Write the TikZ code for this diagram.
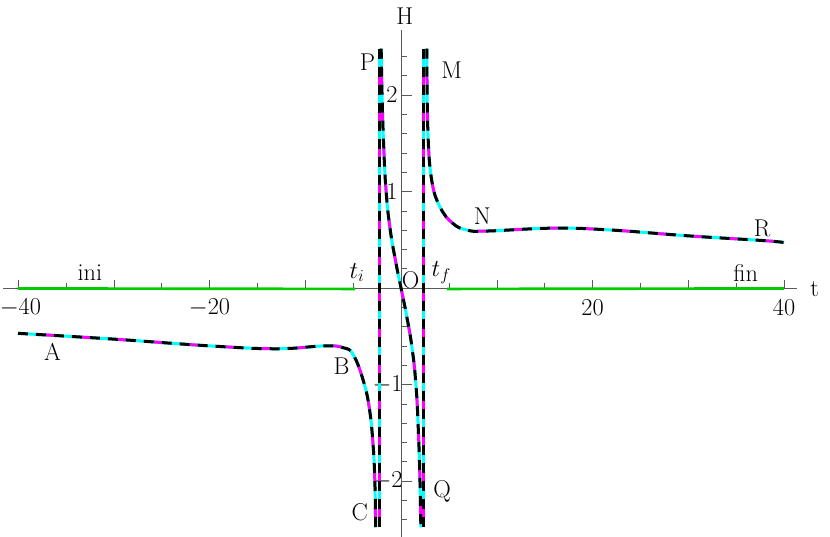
\documentclass[tikz,border=0pt]{standalone}
\usepackage{amsmath}
\usetikzlibrary{calc}
\definecolor{cy}{RGB}{0,255,255}
\definecolor{mg}{RGB}{255,0,255}

\begin{document}
\begin{tikzpicture}[x=0.28725cm,y=2.895cm]
            \tikzset{every node/.style={inner sep=1pt,font=\huge}}
            \tikzstyle{base}=[cy,line width=0.09cm]
            \tikzstyle{mag}=[mg,line width=0.09cm,dash pattern={on 0cm off 0.84cm on 0.24cm off 0cm}]
            \tikzstyle{blk}=[black,line width=0.09cm,dash pattern={on 0.3cm off 0.24cm}]
            \tikzstyle{flat}=[green!80!black,line width=0.08cm]
            \useasboundingbox (-41.88,-2.58) rectangle (44.80,2.984);
            % axes
            \draw[gray!70!black] (-41.55,0) -- (41.35,0);
            \draw[gray!70!black] (0,-2.58) -- (0,2.67);
            \foreach \t in {-40,-30,...,40} \draw[gray!70!black] (\t,0) -- ++(0,0.08);
            \foreach \t in {-35,-25,...,35} \draw[gray!70!black] (\t,0) -- ++(0,0.05);
            \foreach \h in {-2.4,-2.2,...,2.5} \draw[gray!70!black] (0,\h) -- ++(0.6,0);
            \foreach \h in {-2,-1,1,2} \draw[gray!70!black] (0,\h) -- ++(1.1,0);
            \foreach \t in {-20,20,40} \node (x\t) at (\t,-0.2) {$\t$};
            \node (x-40) at (-39.75,-0.2) {$-40$};
            \foreach \h in {1,2} \node (y\h) at (-0.95,\h) {$\h$};
            \foreach \h in {-1,-2} \node (y\h) at (-1.4,\h) {$\h$};
            \node (hl) at (0.4,2.82) {H};
            \node (tl) at (43.2,-0.01) {t};
            % green pieces
            \draw[flat] (-40,-0.005) -- (-4.8,-0.01);
            \draw[flat] (4.8,-0.01) -- (40,-0.005);
            % branches
            \foreach \sty in {base,mag,blk} {
                \draw[\sty] (-2.2,2.48) -- (-2.2,-2.48);
                \draw[\sty] (2.3,2.48) -- (2.3,-2.48);
                \draw[\sty] plot[smooth,tension=0.7] coordinates {(-40,-0.47) (-30,-0.53) (-20,-0.6) (-13,-0.63) (-8,-0.6) (-6,-0.62) (-5.0,-0.69) (-3.97,-0.95) (-3.3,-1.25) (-2.9,-1.65) (-2.72,-2.05) (-2.65,-2.48)};
                \draw[\sty] plot[smooth,tension=0.8] coordinates {(-2.07,2.48) (-1.98,2) (-1.82,1.5) (-1.57,1.02) (-1.15,0.62) (-0.55,0.27) (0,0) (0.55,-0.27) (1.15,-0.62) (1.57,-1.02) (1.82,-1.5) (1.98,-2) (2.07,-2.48)};
                \draw[\sty] plot[smooth,tension=0.7] coordinates {(2.7,2.48) (2.8,1.64) (3.2,1.12) (4.07,0.84) (5.4,0.67) (6.9,0.6) (9,0.59) (16,0.62) (22,0.6) (30,0.54) (38,0.49) (40,0.47)};
            }
            % labels
            \node (P) at (-3.5,2.34) {P};
            \node (M) at (5.3,2.26) {M};
            \node (N) at (8.5,0.74) {N};
            \node (R) at (37.7,0.62) {R};
            \node (A) at (-36.4,-0.66) {A};
            \node (B) at (-6.2,-0.81) {B};
            \node (C) at (-4.3,-2.32) {C};
            \node (Q) at (4.3,-2.11) {Q};
            \node (O) at (1.0,0.08) {O};
            \node (ti) at (-4.6,0.16) {$t_i$};
            \node (tf) at (4.2,0.16) {$t_f$};
            \node (ini) at (-32.5,0.16) {ini};
            \node (fin) at (36,0.16) {fin};
\end{tikzpicture}
\end{document}
